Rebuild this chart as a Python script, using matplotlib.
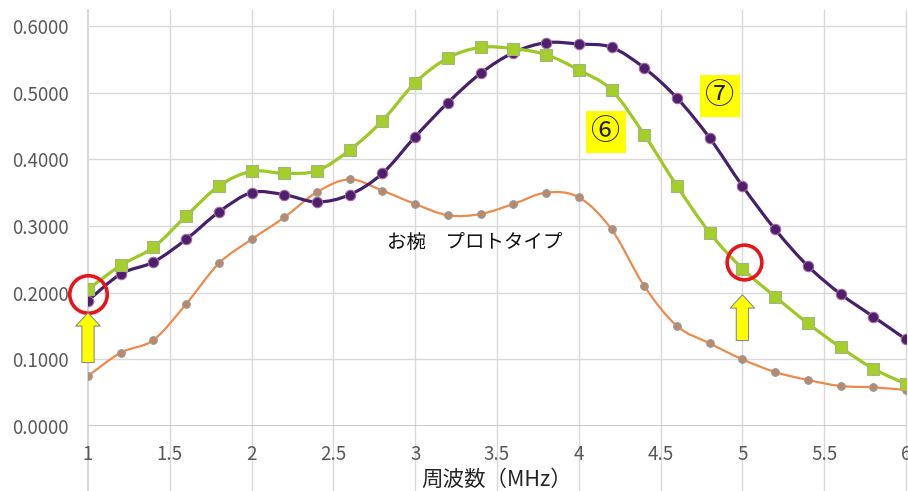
import matplotlib
matplotlib.use('Agg')
import matplotlib.pyplot as plt
from matplotlib.path import Path
from matplotlib.patches import PathPatch
from matplotlib.ticker import MultipleLocator, FormatStrFormatter

plt.rcParams['font.family'] = ['Noto Sans CJK JP', 'DejaVu Sans']

# frequency (MHz)
freq = [1.0, 1.2, 1.4, 1.6, 1.8, 2.0, 2.2, 2.4, 2.6, 2.8, 3.0, 3.2, 3.4,
        3.6, 3.8, 4.0, 4.2, 4.4, 4.6, 4.8, 5.0, 5.2, 5.4, 5.6, 5.8, 6.0]

# series 6 (green squares)
s6 = [0.205, 0.241, 0.268, 0.315, 0.360, 0.382, 0.379, 0.383, 0.414, 0.458,
      0.515, 0.552, 0.568, 0.566, 0.557, 0.534, 0.504, 0.437, 0.360, 0.290,
      0.236, 0.194, 0.154, 0.118, 0.086, 0.063]

# series 7 (purple circles)
s7 = [0.188, 0.228, 0.246, 0.280, 0.321, 0.350, 0.347, 0.336, 0.347, 0.379,
      0.434, 0.485, 0.529, 0.560, 0.575, 0.573, 0.568, 0.537, 0.492, 0.432,
      0.360, 0.295, 0.240, 0.198, 0.164, 0.130]

# prototype bowl (orange)
proto = [0.075, 0.110, 0.129, 0.183, 0.244, 0.280, 0.313, 0.351, 0.370, 0.353,
         0.333, 0.316, 0.318, 0.333, 0.350, 0.343, 0.295, 0.210, 0.150, 0.124,
         0.100, 0.081, 0.069, 0.060, 0.058, 0.054]


def smooth_path(xs, ys):
    # excel-like smoothed line: cubic bezier, control points from neighbours
    n = len(xs)
    verts = [(xs[0], ys[0])]
    codes = [Path.MOVETO]
    for i in range(n - 1):
        x0, y0 = xs[max(i - 1, 0)], ys[max(i - 1, 0)]
        x1, y1 = xs[i], ys[i]
        x2, y2 = xs[i + 1], ys[i + 1]
        x3, y3 = xs[min(i + 2, n - 1)], ys[min(i + 2, n - 1)]
        verts += [(x1 + (x2 - x0) / 6, y1 + (y2 - y0) / 6),
                  (x2 - (x3 - x1) / 6, y2 - (y3 - y1) / 6),
                  (x2, y2)]
        codes += [Path.CURVE4] * 3
    return Path(verts, codes)


fig = plt.figure(figsize=(9.08, 4.91), dpi=100)
ax = fig.add_axes([88 / 908, 65 / 491, 818 / 908, 416 / 491])

ax.set_xlim(1, 6)
ax.set_ylim(0, 0.624)

# grid
for v in [1.5, 2, 2.5, 3, 3.5, 4, 4.5, 5, 5.5, 6]:
    ax.axvline(v, ymin=-0.156, ymax=1, color='#D9D9D9', lw=1, clip_on=False, zorder=0)
ax.axvline(1, ymin=-0.156, ymax=1, color='#D0D0D0', lw=1.2, clip_on=False, zorder=0)
for h in [0.1, 0.2, 0.3, 0.4, 0.5, 0.6]:
    ax.axhline(h, color='#D9D9D9', lw=1, zorder=0)
ax.axhline(0, color='#BFBFBF', lw=1.2, zorder=0)

for s in ax.spines.values():
    s.set_visible(False)

# orange prototype
ax.add_patch(PathPatch(smooth_path(freq, proto), fill=False, ec='#EE8A4C', lw=1.6, zorder=2))
ax.plot(freq, proto, ls='none', marker='o', ms=5.5, mfc='#B9896A', mec='#9A9A9A', mew=0.8, zorder=3)

# purple 7
ax.add_patch(PathPatch(smooth_path(freq, s7), fill=False, ec='#46206B', lw=2.3, zorder=4))
ax.plot(freq, s7, ls='none', marker='o', ms=7.5, mfc='#4E1F6E', mec='#A56A9A', mew=0.8, zorder=5)

# green 6
ax.add_patch(PathPatch(smooth_path(freq, s6), fill=False, ec='#9CC922', lw=2.3, zorder=6))
ax.plot(freq, s6, ls='none', marker='s', ms=8, mfc='#A6CE2A', mec='#A0B880', mew=0.8, zorder=7)

ax.xaxis.set_major_locator(MultipleLocator(0.5))
ax.yaxis.set_major_locator(MultipleLocator(0.1))
ax.xaxis.set_major_formatter(FormatStrFormatter('%g'))
ax.yaxis.set_major_formatter(FormatStrFormatter('%.4f'))
ax.tick_params(length=0, labelsize=13.5, colors='#595959', pad=14)
ax.tick_params(axis='x', pad=13)

ax.set_xlabel('周波数（MHz）', fontsize=15.5, color='#262626', labelpad=3)

# annotations
ax.text(2.83, 0.275, 'お椀\u3000プロトタイプ', fontsize=14, color='#111111', va='center', zorder=8)
ax.text(4.166, 0.441, '⑥', fontsize=21, color='#222222', ha='center', va='center', zorder=8,
        bbox=dict(boxstyle='square,pad=0.2', fc='#FFFF00', ec='none'))
ax.text(4.863, 0.495, '⑦', fontsize=21, color='#222222', ha='center', va='center', zorder=8,
        bbox=dict(boxstyle='square,pad=0.2', fc='#FFFF00', ec='none'))

# red circles
ax.plot([1.0], [0.198], marker='o', ms=27, mfc='none', mec='#E8141B', mew=2.6, clip_on=False, zorder=9)
ax.plot([5.01], [0.246], marker='o', ms=25, mfc='none', mec='#E8141B', mew=2.6, zorder=9)

# yellow arrows
arrow = dict(arrowstyle='simple,head_width=1.1,head_length=0.6,tail_width=0.55',
             mutation_scale=16, fc='#FFFF00', ec='#8C8C8C', lw=0.8)
ax.annotate('', xy=(1.0, 0.174), xytext=(1.0, 0.091), arrowprops=arrow, annotation_clip=False, zorder=9)
ax.annotate('', xy=(5.0, 0.201), xytext=(5.0, 0.124), arrowprops=arrow, zorder=9)

plt.savefig('out.png', dpi=100)
